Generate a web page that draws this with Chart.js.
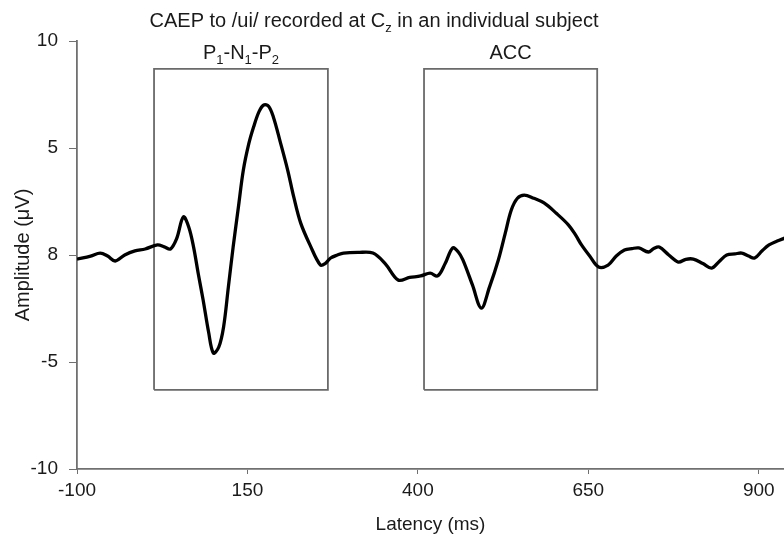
<!DOCTYPE html>
<html>
<head>
<meta charset="utf-8">
<script src="https://cdn.jsdelivr.net/npm/chart.js@4.4.1/dist/chart.umd.min.js"></script>
<style>
  body { margin: 0; background: #fff; }
  #wrap { width: 784px; height: 537px; }
</style>
</head>
<body>
<div id="wrap"><canvas id="graphCanvas" width="784" height="537"></canvas></div>
<script>
// 波形データ (読み取り値)
const latencyMs = [-100, -80, -66, -55, -44, -30, -15, 0, 18, 28, 37, 46, 56, 64, 71, 78, 85, 93, 100, 108, 115, 122, 129, 137, 144, 152, 159, 167, 174, 181, 188, 198, 209, 218, 228, 242, 257, 264, 272, 282, 291, 312, 334, 352, 371, 388, 404, 418, 429, 440, 451, 459, 466, 480, 493, 505, 518, 528, 537, 546, 556, 570, 585, 603, 621, 631, 640, 652, 665, 679, 691, 703, 714, 724, 738, 746, 754, 768, 782, 793, 804, 818, 831, 842, 853, 865, 875, 885, 894, 905, 915, 927, 938];
const amplitudeUv = [-0.19, -0.05, 0.09, -0.05, -0.28, 0.0, 0.19, 0.28, 0.47, 0.38, 0.28, 0.75, 1.78, 1.3, 0.37, -0.9, -2.1, -3.6, -4.58, -4.3, -3.36, -1.5, 0.37, 2.3, 3.97, 5.2, 5.98, 6.7, 7.01, 6.95, 6.45, 5.3, 3.97, 2.7, 1.5, 0.45, -0.47, -0.4, -0.14, 0.0, 0.09, 0.12, 0.09, -0.4, -1.17, -1.05, -0.98, -0.85, -0.98, -0.4, 0.33, 0.15, -0.23, -1.4, -2.48, -1.5, -0.23, 1.0, 2.1, 2.65, 2.8, 2.65, 2.43, 1.95, 1.4, 0.95, 0.47, -0.05, -0.56, -0.47, -0.05, 0.23, 0.3, 0.33, 0.14, 0.3, 0.37, 0.0, -0.33, -0.2, -0.19, -0.4, -0.61, -0.3, 0.0, 0.05, 0.09, -0.05, -0.14, 0.2, 0.47, 0.65, 0.79];

// 枠 (P1-N1-P2 / ACC) : ラベルは [文字, 下付き] の組
const boxLabels = [[['P', '1'], ['-N', '1'], ['-P', '2']], [['ACC', '']]];
const boxStartMs = [13, 409];
const boxEndMs = [268, 663];
const boxTopUv = 8.7;
const boxBottomUv = -6.3;

// タイトル
const titleParts = [['CAEP to /ui/ recorded at C', 'z'], [' in an individual subject', '']];

// 目盛り
const xTicks = [-100, 150, 400, 650, 900];
const yTicks = [-10, -5, 0, 5, 10];
const yTickLabels = ['-10', '-5', '8', '5', '10'];

const FONT = '"Liberation Sans", Arial, sans-serif';
const AXIS_COLOR = '#707070';
const TEXT_COLOR = '#1a1a1a';

const waveData = latencyMs.map((x, i) => ({ x: x, y: amplitudeUv[i] }));

const boxDatasets = boxStartMs.map((s, i) => ({
    data: [
        { x: s, y: boxBottomUv }, { x: s, y: boxTopUv },
        { x: boxEndMs[i], y: boxTopUv }, { x: boxEndMs[i], y: boxBottomUv },
        { x: s, y: boxBottomUv }
    ],
    borderColor: '#6a6a6a',
    borderWidth: 1.8,
    pointRadius: 0,
    tension: 0,
    fill: false,
    order: 2
}));

// 下付き文字つきテキストを中央揃えで描く
function drawSubText(ctx, parts, cx, y, size, subSize) {
    const big = size + 'px ' + FONT, small = subSize + 'px ' + FONT;
    let total = 0;
    parts.forEach(p => {
        ctx.font = big; total += ctx.measureText(p[0]).width;
        ctx.font = small; total += ctx.measureText(p[1]).width;
    });
    let x = cx - total / 2;
    ctx.textAlign = 'left';
    parts.forEach(p => {
        ctx.font = big; ctx.fillText(p[0], x, y); x += ctx.measureText(p[0]).width;
        ctx.font = small; ctx.fillText(p[1], x, y + size * 0.25); x += ctx.measureText(p[1]).width;
    });
}

const labelPlugin = {
    id: 'labels',
    afterDraw(chart) {
        const ctx = chart.ctx;
        const xs = chart.scales.x, ys = chart.scales.y;
        ctx.save();
        ctx.fillStyle = TEXT_COLOR;
        ctx.textBaseline = 'alphabetic';
        drawSubText(ctx, titleParts, 374, 27, 20, 13);
        boxLabels.forEach((lab, i) => {
            const cx = (xs.getPixelForValue(boxStartMs[i]) + xs.getPixelForValue(boxEndMs[i])) / 2;
            drawSubText(ctx, lab, cx, ys.getPixelForValue(boxTopUv) - 10, 20, 13);
        });
        ctx.restore();
    }
};

const ctx = document.getElementById('graphCanvas').getContext('2d');
new Chart(ctx, {
    type: 'line',
    data: {
        datasets: [{
            data: waveData,
            borderColor: '#000',
            borderWidth: 3.3,
            pointRadius: 0,
            tension: 0.35,
            fill: false,
            order: 1
        }, ...boxDatasets]
    },
    options: {
        responsive: false,
        animation: false,
        layout: { padding: { top: 41, right: 0, left: 0, bottom: 0 } },
        plugins: { legend: { display: false }, tooltip: { enabled: false } },
        scales: {
            x: {
                type: 'linear',
                min: -100,
                max: 937,
                afterBuildTicks: s => { s.ticks = xTicks.map(v => ({ value: v })); },
                afterFit: s => { s.height = 68; },
                border: { display: true, color: AXIS_COLOR, width: 1.8 },
                grid: { drawOnChartArea: false, tickLength: 5, color: AXIS_COLOR },
                ticks: { color: TEXT_COLOR, font: { family: FONT, size: 19 }, padding: 5, maxRotation: 0 },
                title: { display: true, text: 'Latency (ms)', color: TEXT_COLOR, font: { family: FONT, size: 19 }, padding: { top: 4, bottom: 1 } }
            },
            y: {
                min: -10,
                max: 10,
                afterBuildTicks: s => { s.ticks = yTicks.map(v => ({ value: v })); },
                afterFit: s => { s.width = 77; },
                border: { display: true, color: AXIS_COLOR, width: 1.8 },
                grid: { drawOnChartArea: false, tickLength: 8, color: AXIS_COLOR },
                ticks: {
                    color: TEXT_COLOR, font: { family: FONT, size: 19 }, padding: 11,
                    callback: v => yTickLabels[yTicks.indexOf(v)]
                },
                title: { display: true, text: 'Amplitude (\u03BCV)', color: TEXT_COLOR, font: { family: FONT, size: 20 }, padding: { top: 11, bottom: 2 } }
            }
        }
    },
    plugins: [labelPlugin]
});
</script>
</body>
</html>
